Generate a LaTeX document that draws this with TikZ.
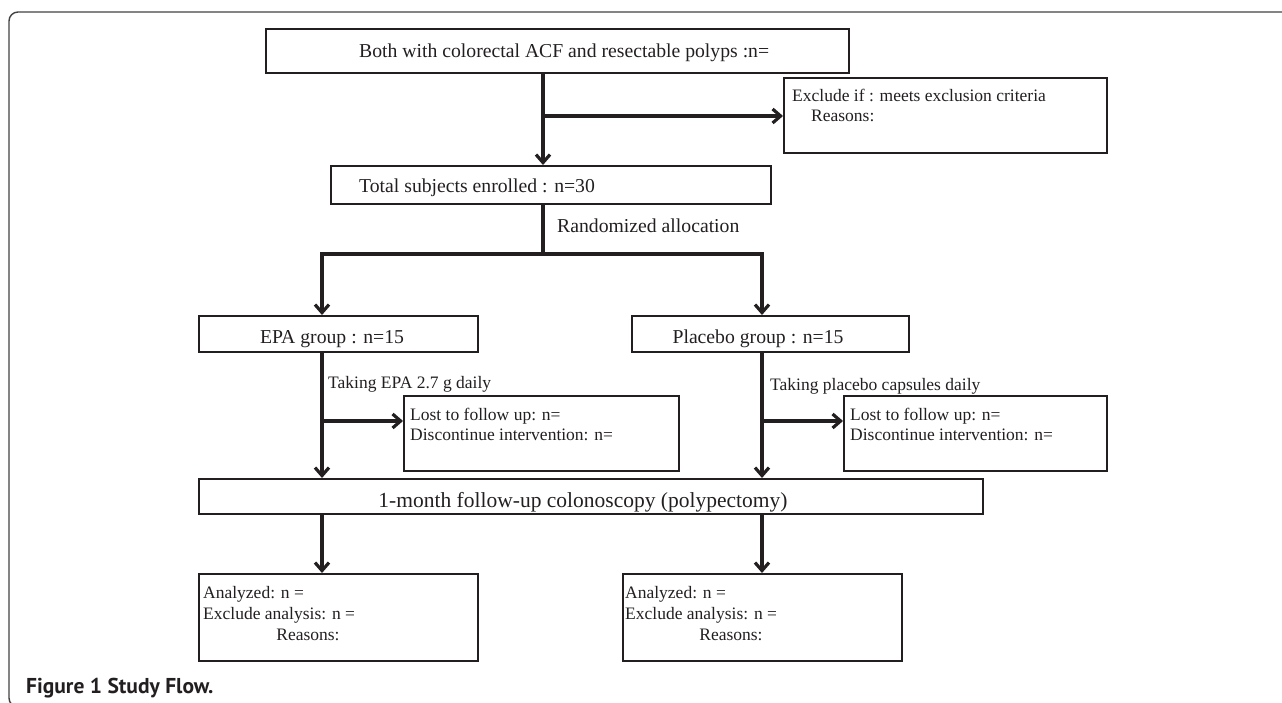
\documentclass[tikz,border=0pt]{standalone}
\usepackage{fontspec}
\setmainfont{Liberation Serif}
\newfontfamily\capfont{PT Sans}
\usetikzlibrary{arrows.meta}
\definecolor{ink}{HTML}{231F20}
\begin{document}
\begin{tikzpicture}[x=1pt,y=1pt,line join=miter,
  box/.style={draw=ink,line width=2.2pt,rectangle,inner sep=0pt,anchor=north west},
  conn/.style={draw=ink,line width=3.2pt},
  arr/.style={conn,-{Straight Barb[length=8pt,width=14pt]}},
  big/.style={font=\fontsize{19.7}{22}\selectfont,text=ink,inner sep=0pt},
  small/.style={font=\fontsize{17.5}{20}\selectfont,text=ink,inner sep=0pt},
  huge/.style={font=\fontsize{21.5}{24}\selectfont,text=ink,inner sep=0pt},
  capt/.style={font=\capfont\bfseries\fontsize{21.5}{24}\selectfont,text=ink,inner sep=0pt}]
\useasboundingbox (0,0) rectangle (1282,-703);
\begin{scope}
  \clip (0,0) rectangle (1282,-703);
  \draw[ink!85,line width=1.4pt,rounded corners=9pt] (9,-12) rectangle (1300,-707);
\end{scope}
% boxes
\node[box,minimum width=583pt,minimum height=44pt] (b1) at (265,-28) {};
\node[box,minimum width=323pt,minimum height=75pt] (ex) at (783,-77) {};
\node[box,minimum width=440pt,minimum height=38pt] (tot) at (330,-165) {};
\node[box,minimum width=279pt,minimum height=36pt] (epa) at (198,-315) {};
\node[box,minimum width=277pt,minimum height=36pt] (pla) at (631,-315) {};
\node[box,minimum width=275pt,minimum height=75pt] (lost1) at (403,-395) {};
\node[box,minimum width=263pt,minimum height=75pt] (lost2) at (843,-395) {};
\node[box,minimum width=784pt,minimum height=35pt] (fu) at (198,-478) {};
\node[box,minimum width=279pt,minimum height=87pt] (an1) at (198,-573) {};
\node[box,minimum width=279pt,minimum height=87pt] (an2) at (622,-573) {};
% texts
\node[big,anchor=base west] (t1) at (359,-58) {Both with colorectal ACF and resectable polyps :n=};
\node[small,anchor=base west] (tex1) at (792,-102) {Exclude if : meets exclusion criteria};
\node[small,anchor=base west] (tex2) at (811,-122) {Reasons:};
\node[big,anchor=base west] (ttot) at (359,-193) {Total subjects enrolled : n=30};
\node[big,anchor=base west] (trand) at (557,-233) {Randomized allocation};
\node[big,anchor=base] (tepa) at (332,-343) {EPA group : n=15};
\node[big,anchor=base] (tpla) at (758,-343) {Placebo group : n=15};
\node[small,anchor=base west] (ttk1) at (328,-388) {Taking EPA 2.7 g daily};
\node[small,anchor=base west] (ttk2) at (770,-390) {Taking placebo capsules daily};
\node[small,anchor=base west] (tl1a) at (410,-420) {Lost to follow up: n=};
\node[small,anchor=base west] (tl1b) at (410,-440) {Discontinue intervention: n=};
\node[small,anchor=base west] (tl2a) at (850,-420) {Lost to follow up: n=};
\node[small,anchor=base west] (tl2b) at (850,-440) {Discontinue intervention: n=};
\node[huge,anchor=base] (tfu) at (583,-507) {1-month follow-up colonoscopy (polypectomy)};
\node[small,anchor=base west] (ta1a) at (203,-598) {Analyzed: n =};
\node[small,anchor=base west] (ta1b) at (203,-619) {Exclude analysis: n =};
\node[small,anchor=base] (ta1c) at (308,-640) {Reasons:};
\node[small,anchor=base west] (ta2a) at (625,-598) {Analyzed: n =};
\node[small,anchor=base west] (ta2b) at (625,-619) {Exclude analysis: n =};
\node[small,anchor=base] (ta2c) at (731,-640) {Reasons:};
\node[capt,anchor=base west] (cap) at (26,-693) {Figure 1 Study Flow.};
% junctions
\coordinate (j1) at (543,-116);
\coordinate (j2) at (543,-254);
\coordinate (jl) at (322,-254);
\coordinate (jr) at (762,-254);
\coordinate (k1) at (322,-421);
\coordinate (k2) at (762,-421);
% connectors
\draw[conn] (b1.south -| j1) -- (j1);
\draw[arr] (j1) -- (tot.north -| j1);
\draw[arr] (j1) -- (ex.west |- j1);
\draw[conn] (tot.south -| j2) -- (j2);
\draw[arr] (jr) -- (jl) -- (epa.north -| jl);
\draw[arr] (jl) -- (jr) -- (pla.north -| jr);
\draw[arr] (epa.south -| k1) -- (fu.north -| k1);
\draw[arr] (k1) -- (lost1.west |- k1);
\draw[arr] (pla.south -| k2) -- (fu.north -| k2);
\draw[arr] (k2) -- (lost2.west |- k2);
\draw[arr] (fu.south -| k1) -- (an1.north -| k1);
\draw[arr] (fu.south -| k2) -- (an2.north -| k2);
\end{tikzpicture}
\end{document}
